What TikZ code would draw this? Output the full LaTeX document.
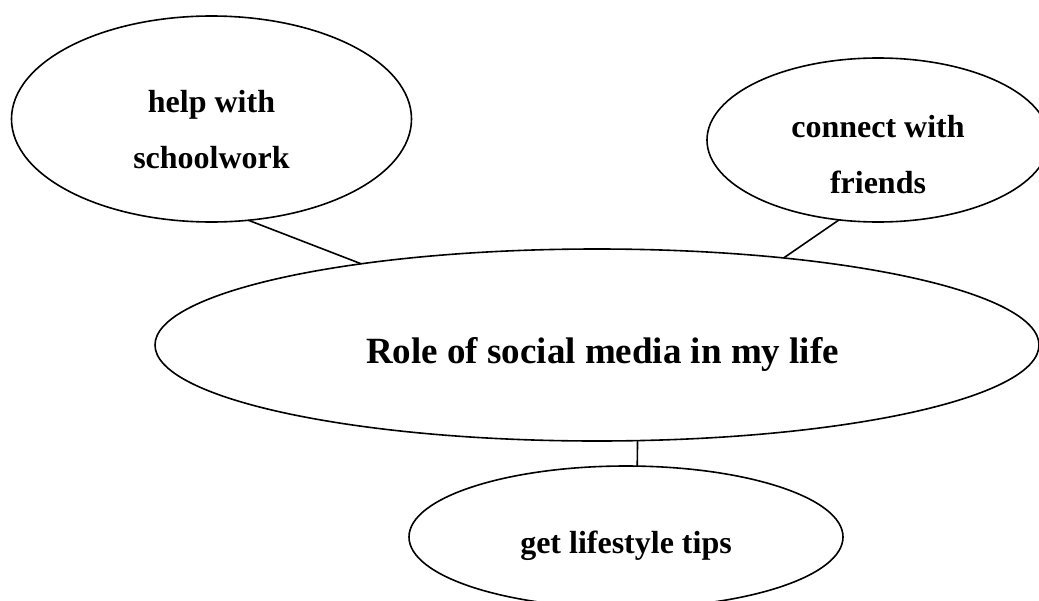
\documentclass[tikz,border=0pt]{standalone}
\usepackage{fontspec}
\setmainfont{Liberation Serif}
\usetikzlibrary{shapes.geometric}
\tikzset{
  bubble/.style={ellipse, draw=black, line width=1.6pt, inner sep=0pt, outer sep=0pt, fill=white},
  txt/.style={font=\bfseries\fontsize{32}{56}\selectfont, align=center, inner sep=0pt, text=black},
  bigtxt/.style={font=\bfseries\fontsize{37}{44}\selectfont, align=center, inner sep=0pt, text=black},
  link/.style={draw=black, line width=1.6pt}
}
\begin{document}
\begin{tikzpicture}[x=1pt,y=-1pt]
\useasboundingbox (0,0) rectangle (1039,600);
\clip (0,0) rectangle (1039,600);
\fill[white] (0,0) rectangle (1039,600);
\node[bubble, minimum width=400pt, minimum height=206pt,
  label={[txt, yshift=-10.7pt]center:{help with\\schoolwork}}] (hw) at (211.5,119) {};
\node[bubble, minimum width=342pt, minimum height=164pt,
  label={[txt, yshift=-15pt]center:{connect with\\friends}}] (cf) at (878,140) {};
\node[bubble, minimum width=884pt, minimum height=192pt,
  label={[bigtxt, xshift=5.5pt, yshift=-9.5pt]center:{Role of social media in my life}}] (role) at (597,345) {};
\node[bubble, minimum width=434pt, minimum height=142pt,
  label={[txt, yshift=-8.6pt]center:{get lifestyle tips}}] (glt) at (626,537) {};
\draw[link] (hw.-70.5) -- (role.161.3);
\draw[link] (cf.-116.6) -- (role.25.6);
\draw[link] (role.-67.2) -- (glt.81.2);
\end{tikzpicture}
\end{document}
